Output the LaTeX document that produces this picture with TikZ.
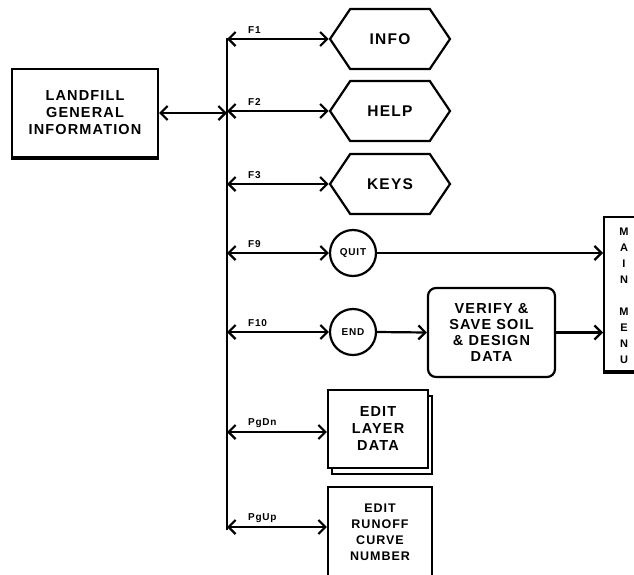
\documentclass[tikz,border=0pt]{standalone}
\usepackage{fontspec}
\setmainfont{Liberation Sans}
\newfontfamily\chartFont{Liberation Sans}[LetterSpace=8]
\usetikzlibrary{arrows.meta,shapes.symbols,shadows}
\tikzstyle{chart} = [x = 1pt, y = -1pt, line width = 2.2pt]
\tikzstyle{boxStyle} = [draw, fill=white, align=center, inner sep=0pt, font=\chartFont\bfseries\fontsize{14.5}{17}\selectfont]
\tikzstyle{roundBox} = [boxStyle, rounded corners = 8pt, font=\chartFont\bfseries\fontsize{14.5}{16}\selectfont]
\tikzstyle{hexStyle} = [draw, signal, signal to=west and east, signal pointer angle=112, minimum width=120, minimum height=60, inner sep=0pt, font=\chartFont\bfseries\fontsize{15.5}{18}\selectfont]
\tikzstyle{circleStyle} = [draw, circle, minimum size=46, inner sep=0pt, font=\chartFont\bfseries\fontsize{10}{12}\selectfont]
\tikzstyle{keyLabel} = [anchor=west, inner sep=0pt, font=\chartFont\bfseries\fontsize{10}{11}\selectfont]
\tikzstyle{menuText} = [align=center, inner sep=0pt, font=\chartFont\bfseries\fontsize{11}{16}\selectfont]
\tikzstyle{linkArrow} = [{Straight Barb[length=7pt,width=14pt]}-{Straight Barb[length=7pt,width=14pt]}]
\tikzstyle{toArrow} = [-{Straight Barb[length=7pt,width=14pt]}]
\tikzstyle{heavyEdge} = [line width=3.5pt]

\begin{document}
\begin{tikzpicture}[chart]
  \clip (0,0) rectangle (634,574);
  % left box and bus
  \node[boxStyle, minimum width=146, minimum height=88] (landfill) at (85,113) {LANDFILL\\GENERAL\\INFORMATION};
  \draw[heavyEdge] (landfill.south west) -- (landfill.south east);
  \coordinate (busTop) at (227,38);
  \coordinate (busBottom) at (227,530);
  \draw (busTop) -- (busBottom);
  \draw[linkArrow] (landfill.east) -- (landfill.east -| busTop);
  % screens
  \node[hexStyle] (info) at (390,39) {INFO};
  \node[hexStyle] (help) at (390,111) {HELP};
  \node[hexStyle] (keys) at (390,184) {KEYS};
  \node[circleStyle] (quit) at (353,253) {QUIT};
  \node[circleStyle] (endKey) at (353,332) {END};
  \node[roundBox, minimum width=127, minimum height=89] (verify) at (491.5,332.5) {VERIFY \&\\SAVE SOIL\\\& DESIGN\\DATA};
  \node[boxStyle, minimum width=100, minimum height=78, copy shadow={shadow xshift=4pt, shadow yshift=-6pt}] (layer) at (378,429) {EDIT\\LAYER\\DATA};
  \node[boxStyle, minimum width=104, minimum height=90, font=\chartFont\bfseries\fontsize{12.5}{16}\selectfont] (runoff) at (380,532) {EDIT\\RUNOFF\\CURVE\\NUMBER};
  \node[boxStyle, minimum width=50, minimum height=154, anchor=north west] (mainMenu) at (603,216) {};
  \draw[heavyEdge] (mainMenu.south west) -- (mainMenu.south east);
  \node[menuText] (mainText) at (624,296) {M\\A\\I\\N\\[16pt]M\\E\\N\\U};
  % key links
  \foreach \keyName/\yPos/\target in {F1/39/info,F2/111/help,F3/184/keys,F9/253/quit,F10/332/endKey,PgDn/432/layer,PgUp/527/runoff} {
    \coordinate (bus\keyName) at (227,\yPos);
    \node[keyLabel] (label\keyName) at (247,\yPos - 9) {\keyName};
    \draw[linkArrow] (bus\keyName) -- (\target.west |- bus\keyName);
  }
  % exits to main menu
  \draw[toArrow] (quit.east) -- (quit.east -| mainMenu.west);
  \draw[toArrow] (endKey.east) -- (verify.west);
  \draw[toArrow] (verify.east) -- (verify.east -| mainMenu.west);
\end{tikzpicture}
\end{document}
